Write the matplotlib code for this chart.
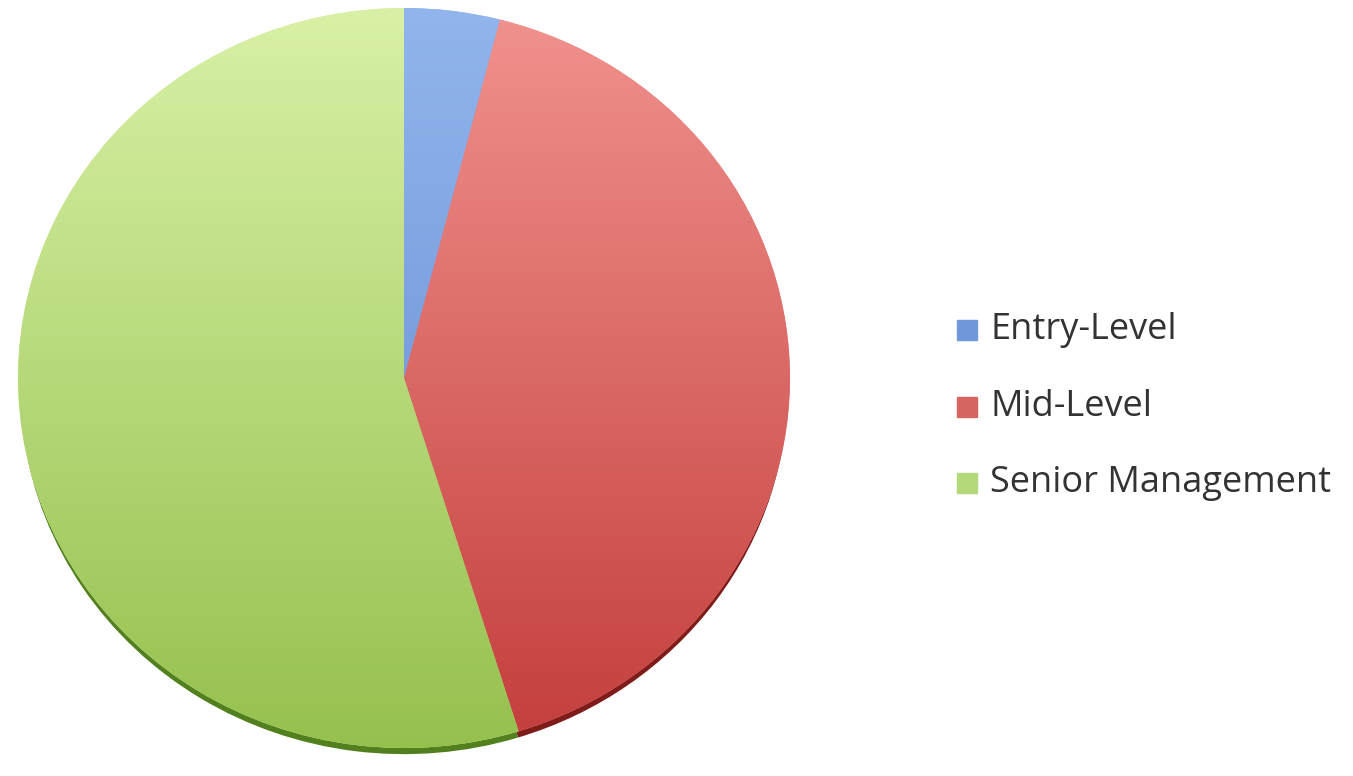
import numpy as np
import matplotlib
matplotlib.use("Agg")
import matplotlib.pyplot as plt
from matplotlib.colors import to_rgb
from matplotlib.patches import Rectangle

categories = ["Entry-Level", "Mid-Level", "Senior Management"]
shares = [4, 41.2, 54.8]

# light top / dark bottom, excel-ish gradient
top_colors = ["#93B6EE", "#F29490", "#DAF2A8"]
bottom_colors = ["#5E86CC", "#C23C3A", "#94BF4C"]
rim_colors = ["#3C5E9A", "#7E1C1A", "#52801E"]
legend_colors = ["#6F97D9", "#D66462", "#B3D97A"]

W, H = 1353, 776
fig = plt.figure(figsize=(W / 100, H / 100), dpi=100)

cx, cy, rx, ry = 404, 378, 386, 370
rim_px = 8
rim_off = rim_px / ry
ax = fig.add_axes([(cx - rx) / W, (H - cy - ry - rim_px) / H,
                   2 * rx / W, (2 * ry + rim_px) / H])

# dark rim underneath, shifted down a bit
rim, _ = ax.pie(shares, colors=rim_colors, startangle=90, counterclock=False,
                center=(0, -rim_off), radius=0.995, wedgeprops=dict(linewidth=0))

wedges, _ = ax.pie(shares, colors=top_colors, startangle=90, counterclock=False,
                   radius=1.0, wedgeprops=dict(linewidth=0))

t = np.linspace(0, 1, 256)[:, None]
for w, c1, c2 in zip(wedges, top_colors, bottom_colors):
    a = np.array(to_rgb(c1))
    b = np.array(to_rgb(c2))
    img = (a[None, None, :] * (1 - t[..., None]) + b[None, None, :] * t[..., None])
    im = ax.imshow(img, extent=(-1.05, 1.05, -1.05, 1.05), origin="upper",
                   aspect="auto", zorder=w.get_zorder() + 0.1)
    im.set_clip_path(w)

ax.set_aspect("auto")
ax.set_xlim(-1, 1)
ax.set_ylim(-1 - rim_off, 1.0)
ax.axis("off")

# legend
ys = [330, 407, 483]
for name, col, y in zip(categories, legend_colors, ys):
    fig.patches.append(Rectangle((957 / W, (H - y - 10) / H), 20 / W, 20 / H,
                                 transform=fig.transFigure, color=col))
    fig.text(990 / W, (H - y) / H, name, fontsize=26, family="Open Sans",
             color="#333333", va="center", ha="left")

fig.savefig("out.png", dpi=100)
